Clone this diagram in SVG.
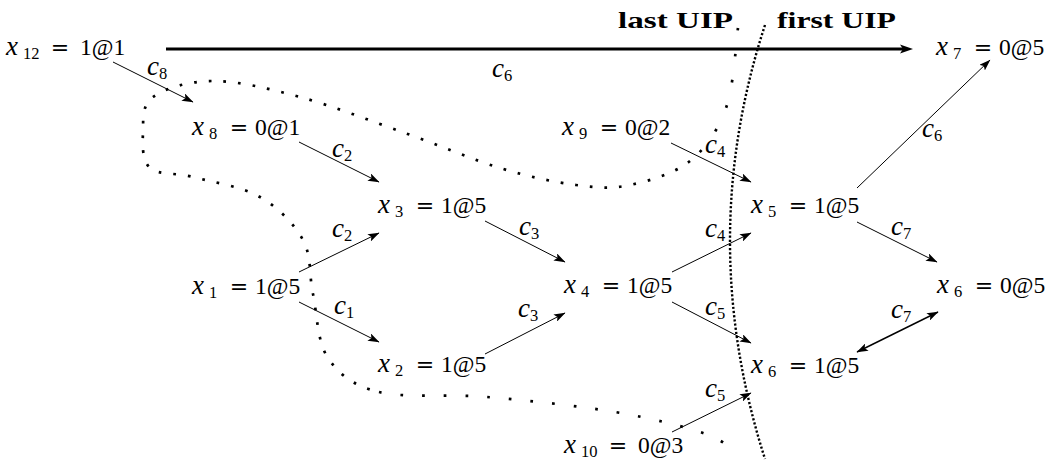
<svg xmlns="http://www.w3.org/2000/svg" width="1051" height="461" viewBox="0 0 1051 461">
<style>
.m{font-family:"Liberation Serif","Times New Roman",serif;font-size:23.5px;fill:#000}
.it{font-style:italic;font-size:27px}
.sb{font-size:16.5px;font-style:normal}
.eq{font-family:"DejaVu Serif",serif;font-size:22px}
.b{font-family:"Liberation Serif",serif;font-weight:bold;font-size:22.5px;fill:#000}
.ar{stroke:#000;stroke-width:1;fill:none;marker-end:url(#ah)}
.cut{fill:none;stroke:#000;stroke-width:2.7}
</style>
<defs>
<marker id="ah" markerUnits="userSpaceOnUse" markerWidth="12" markerHeight="8" refX="11" refY="4" orient="auto"><path d="M0,0 L11.5,4 L0,8 L2.5,4 z" fill="#000"/></marker>
<marker id="ahs" markerUnits="userSpaceOnUse" markerWidth="12" markerHeight="8" refX="11" refY="4" orient="auto-start-reverse"><path d="M0,0 L11.5,4 L0,8 L2.5,4 z" fill="#000"/></marker>
<marker id="ahb" markerUnits="userSpaceOnUse" markerWidth="14" markerHeight="10" refX="5" refY="5" orient="auto"><path d="M0,0.5 L13,5 L0,9.5 L3,5 z" fill="#000"/></marker>
</defs>

<g id="cuts">
<path class="cut" stroke-dasharray="2.7 23.3" d="M738,28 C736,41.3 734,85.8 726,108 C718,130.2 706,148.2 690,161"/>
<path class="cut" stroke-dasharray="2.7 12" d="M690,161 C674,173.8 649,181 630,185 C611,189 597.7,187.8 576,185 C554.3,182.2 528.5,176.7 500,168 C471.5,159.3 438.3,144.8 405,133 C371.7,121.2 332,105.7 300,97 C268,88.3 237.5,81 213,81 C188.5,81 164.7,88.5 153,97 C141.3,105.5 143.5,120.2 143,132 C142.5,143.8 141.7,160.5 150,168 C158.3,175.5 174.7,172.2 193,177 C211.3,181.8 241.7,186.5 260,197 C278.3,207.5 294.2,223.8 303,240 C311.8,256.2 308.8,274.3 313,294 C317.2,313.7 317,341.7 328,358 C339,374.3 352.5,385.5 379,392"/>
<path class="cut" stroke-dasharray="2.7 19" d="M379,392 C405.5,398.5 447.7,393.7 487,397 C526.3,400.3 579,406 615,412 C651,418 682.5,426.2 703,433 C723.5,439.8 732.2,449.7 738,453"/>
<path fill="none" stroke="#000" stroke-width="2.4" stroke-dasharray="2.2 2" d="M765,25 Q695,240 765,459"/>
</g>

<g id="connectors">
<line x1="166" y1="49" x2="905" y2="49" stroke="#000" stroke-width="3" marker-end="url(#ahb)"/>
<line class="ar" x1="113" y1="62" x2="193" y2="102"/>
<line class="ar" x1="299" y1="142" x2="379" y2="182"/>
<line class="ar" x1="299" y1="272" x2="379" y2="233"/>
<line class="ar" x1="299" y1="302" x2="379" y2="342"/>
<line class="ar" x1="485" y1="221" x2="565" y2="262"/>
<line class="ar" x1="485" y1="354" x2="565" y2="313"/>
<line class="ar" x1="671" y1="143" x2="751" y2="182"/>
<line class="ar" x1="672" y1="272" x2="751" y2="233"/>
<line class="ar" x1="672" y1="302" x2="751" y2="343"/>
<line class="ar" x1="672" y1="432" x2="751" y2="393"/>
<line class="ar" x1="857" y1="188" x2="990" y2="60"/>
<line class="ar" x1="857" y1="222" x2="937" y2="262"/>
<line x1="857" y1="352" x2="938" y2="312" stroke="#000" stroke-width="1.4" marker-start="url(#ahs)" marker-end="url(#ahs)"/>
<g font-family="Liberation Serif, serif">
<text class="m" x="147" y="75"><tspan class="it">c</tspan><tspan class="sb" dy="4">8</tspan></text>
<text class="m" x="492" y="77"><tspan class="it">c</tspan><tspan class="sb" dy="4">6</tspan></text>
<text class="m" x="332" y="157"><tspan class="it">c</tspan><tspan class="sb" dy="4">2</tspan></text>
<text class="m" x="332" y="237"><tspan class="it">c</tspan><tspan class="sb" dy="4">2</tspan></text>
<text class="m" x="334" y="314"><tspan class="it">c</tspan><tspan class="sb" dy="4">1</tspan></text>
<text class="m" x="519" y="235"><tspan class="it">c</tspan><tspan class="sb" dy="4">3</tspan></text>
<text class="m" x="518" y="317"><tspan class="it">c</tspan><tspan class="sb" dy="4">3</tspan></text>
<text class="m" x="705" y="153"><tspan class="it">c</tspan><tspan class="sb" dy="4">4</tspan></text>
<text class="m" x="705" y="237"><tspan class="it">c</tspan><tspan class="sb" dy="4">4</tspan></text>
<text class="m" x="705" y="315"><tspan class="it">c</tspan><tspan class="sb" dy="4">5</tspan></text>
<text class="m" x="705" y="397"><tspan class="it">c</tspan><tspan class="sb" dy="4">5</tspan></text>
<text class="m" x="922" y="137"><tspan class="it">c</tspan><tspan class="sb" dy="4">6</tspan></text>
<text class="m" x="891" y="235"><tspan class="it">c</tspan><tspan class="sb" dy="4">7</tspan></text>
<text class="m" x="891" y="318"><tspan class="it">c</tspan><tspan class="sb" dy="4">7</tspan></text>
</g>
</g>

<g id="cut-labels">
<text class="b" x="618" y="28" textLength="115" lengthAdjust="spacingAndGlyphs">last UIP</text>
<text class="b" x="777" y="28" textLength="119" lengthAdjust="spacingAndGlyphs">first UIP</text>
</g>

<g id="x12"><text class="m" y="55"><tspan x="6" class="it">x</tspan><tspan class="sb" dx="5" dy="4">12</tspan><tspan class="eq" x="60" dy="-4" text-anchor="middle">=</tspan><tspan x="80">1@1</tspan></text></g>
<g id="x8"><text class="m" y="135"><tspan x="192" class="it">x</tspan><tspan class="sb" dx="5" dy="4">8</tspan><tspan class="eq" x="239" dy="-4" text-anchor="middle">=</tspan><tspan x="255">0@1</tspan></text></g>
<g id="x9"><text class="m" y="135"><tspan x="562" class="it">x</tspan><tspan class="sb" dx="5" dy="4">9</tspan><tspan class="eq" x="609" dy="-4" text-anchor="middle">=</tspan><tspan x="625">0@2</tspan></text></g>
<g id="x3"><text class="m" y="213"><tspan x="378" class="it">x</tspan><tspan class="sb" dx="5" dy="4">3</tspan><tspan class="eq" x="425" dy="-4" text-anchor="middle">=</tspan><tspan x="441">1@5</tspan></text></g>
<g id="x5"><text class="m" y="213"><tspan x="751" class="it">x</tspan><tspan class="sb" dx="5" dy="4">5</tspan><tspan class="eq" x="798" dy="-4" text-anchor="middle">=</tspan><tspan x="814">1@5</tspan></text></g>
<g id="x1"><text class="m" y="294"><tspan x="192" class="it">x</tspan><tspan class="sb" dx="5" dy="4">1</tspan><tspan class="eq" x="239" dy="-4" text-anchor="middle">=</tspan><tspan x="255">1@5</tspan></text></g>
<g id="x4"><text class="m" y="293"><tspan x="564" class="it">x</tspan><tspan class="sb" dx="5" dy="4">4</tspan><tspan class="eq" x="611" dy="-4" text-anchor="middle">=</tspan><tspan x="627">1@5</tspan></text></g>
<g id="x6a"><text class="m" y="293"><tspan x="937" class="it">x</tspan><tspan class="sb" dx="5" dy="4">6</tspan><tspan class="eq" x="984" dy="-4" text-anchor="middle">=</tspan><tspan x="1000">0@5</tspan></text></g>
<g id="x2"><text class="m" y="372"><tspan x="378" class="it">x</tspan><tspan class="sb" dx="5" dy="4">2</tspan><tspan class="eq" x="425" dy="-4" text-anchor="middle">=</tspan><tspan x="441">1@5</tspan></text></g>
<g id="x6b"><text class="m" y="373"><tspan x="751" class="it">x</tspan><tspan class="sb" dx="5" dy="4">6</tspan><tspan class="eq" x="798" dy="-4" text-anchor="middle">=</tspan><tspan x="814">1@5</tspan></text></g>
<g id="x10"><text class="m" y="453"><tspan x="564" class="it">x</tspan><tspan class="sb" dx="5" dy="4">10</tspan><tspan class="eq" x="618" dy="-4" text-anchor="middle">=</tspan><tspan x="638">0@3</tspan></text></g>
<g id="x7"><text class="m" y="55"><tspan x="936" class="it">x</tspan><tspan class="sb" dx="5" dy="4">7</tspan><tspan class="eq" x="983" dy="-4" text-anchor="middle">=</tspan><tspan x="999">0@5</tspan></text></g>
</svg>
